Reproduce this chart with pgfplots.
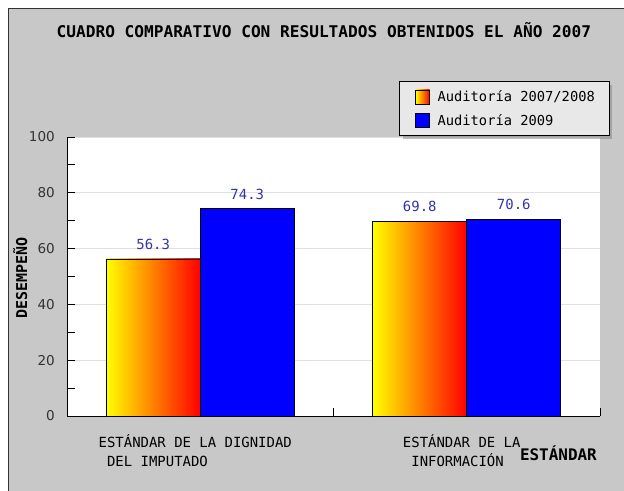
\documentclass[border=0pt]{standalone}
\usepackage{pgfplots}
\pgfplotsset{compat=1.18}
\usepackage{fontspec}
\setmainfont{DejaVu Sans Mono}
\newfontfamily\sansf{DejaVu Sans}
\usetikzlibrary{shadows}
\definecolor{bg}{HTML}{C8C8C8}
\definecolor{legbg}{HTML}{E8E8E8}
\definecolor{gridc}{HTML}{E0E0E0}
\definecolor{vallab}{HTML}{3333AA}
\definecolor{ticklab}{HTML}{333333}
\makeatletter
\tikzset{nopre/.code={\let\tikz@preactions\pgfutil@empty}}
\makeatother
\begin{document}
\begin{tikzpicture}
\useasboundingbox (-67bp,-75bp) rectangle (557bp,416bp);
\fill[white] (-67bp,-75bp) rectangle (557bp,416bp);
\fill[bg] (-58.5bp,-75bp) rectangle (557bp,407.5bp);
\draw[black!80, line width=1bp] (-58.5bp,-75bp) -- (-58.5bp,407.5bp) -- (557bp,407.5bp);
\begin{axis}[
  at={(0,0)}, anchor=south west,
  scale only axis, width=533bp, height=279bp,
  axis background/.style={fill=white},
  xmin=-0.5, xmax=1.5, ymin=0, ymax=100,
  axis x line*=bottom, axis y line*=left,
  axis line style={-, black, line width=0.8bp},
  ybar=0pt, bar width=94bp,
  xtick={0,1},
  xticklabels={{ESTÁNDAR DE LA DIGNIDAD\\\hspace*{8.4bp}DEL IMPUTADO},{ESTÁNDAR DE LA\\\hspace*{8.4bp}INFORMACIÓN}},
  minor xtick={-0.5,0.5,1.5},
  major x tick style={draw=none},
  ytick={0,20,...,100},
  minor ytick={10,30,...,90},
  tick align=inside,
  major tick length=8bp, minor tick length=8bp,
  tick style={black, line width=0.8bp},
  ymajorgrids, grid style={draw=gridc, line width=0.8bp},
  /pgf/number format/assume math mode=true,
  yticklabel style={font=\sansf\fontsize{13.6}{15}\selectfont, text=ticklab, inner xsep=0pt, xshift=-12bp},
  xticklabel style={font=\fontsize{14}{19.5}\selectfont, align=left, anchor=north, inner sep=0pt, yshift=-18bp, xshift=-5bp},
  title={CUADRO COMPARATIVO CON RESULTADOS OBTENIDOS EL AÑO 2007},
  title style={at={(axis description cs:0.482,1.36)}, anchor=base, yshift=-7bp, font=\bfseries\fontsize{16.2}{18}\selectfont, inner sep=0pt},
  ylabel={DESEMPEÑO},
  ylabel style={at={(axis description cs:-0.075,0.496)}, anchor=base, font=\bfseries\fontsize{15}{17}\selectfont, inner sep=0pt},
  xlabel={ESTÁNDAR},
  xlabel style={at={(axis description cs:0.9944,-0.161)}, anchor=base east, font=\bfseries\fontsize{16}{18}\selectfont, inner sep=0pt},
  legend cell align=left,
  legend image code/.code={\path[draw=none, fill=none, nopre] (-2bp,0bp) (22bp,0bp);\draw[#1, nopre] (0bp,-7bp) rectangle (14bp,7bp);},
  legend style={at={(1.017,1.004)}, anchor=south east, draw=black, fill=legbg,
    font=\fontsize{13.8}{16}\selectfont, drop shadow={shadow xshift=3bp, shadow yshift=-3bp, fill=black!50},
    inner xsep=14bp, inner ysep=8bp, row sep=8.5bp, nodes={inner sep=0pt}},
  every node near coord/.append style={font=\fontsize{14}{16}\selectfont, text=vallab, inner sep=0pt, yshift=9bp, anchor=south},
]
\addplot[bar shift=-47bp, draw=black, line width=0.8bp, left color=yellow, right color=red, middle color=orange, nodes near coords] coordinates {(0,56.3)};
\addplot[bar shift=47bp, draw=black, line width=0.8bp, fill=blue, nodes near coords] coordinates {(0,74.3) (1,70.6)};
\addplot[bar shift=-47bp, draw=black, line width=0.8bp, left color=yellow, right color=red, middle color=orange, nodes near coords, forget plot] coordinates {(1,69.8)};
\legend{Auditoría 2007/2008, Auditoría 2009}
\end{axis}
\end{tikzpicture}
\end{document}
